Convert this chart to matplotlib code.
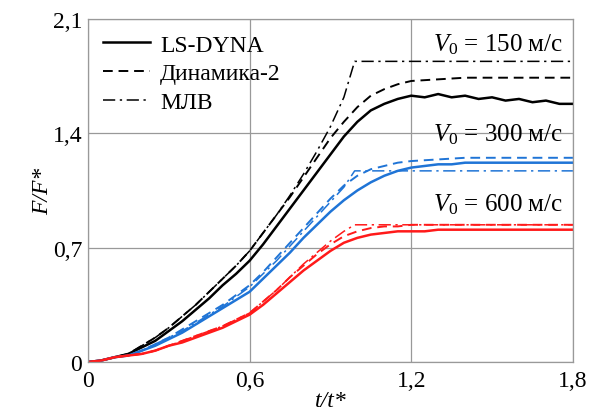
import matplotlib.pyplot as plt

plt.rcParams["font.family"] = ["Liberation Serif", "DejaVu Serif"]
plt.rcParams["mathtext.fontset"] = "custom"
plt.rcParams["mathtext.rm"] = "Liberation Serif"
plt.rcParams["mathtext.it"] = "Liberation Serif:italic"

# time axis t/t* for each series
T_LS = [0, 0.05, 0.1, 0.15, 0.2, 0.25, 0.3, 0.35, 0.4, 0.45, 0.5, 0.55, 0.6, 0.65, 0.7, 0.75,
        0.8, 0.85, 0.9, 0.95, 1.0, 1.05, 1.1, 1.15, 1.2, 1.25, 1.3, 1.35, 1.4, 1.45, 1.5,
        1.55, 1.6, 1.65, 1.7, 1.75, 1.8]
T_DYN = [0, 0.05, 0.1, 0.15, 0.2, 0.25, 0.3, 0.35, 0.4, 0.45, 0.5, 0.55, 0.6, 0.65, 0.7, 0.75,
         0.8, 0.85, 0.9, 0.95, 1.0, 1.05, 1.1, 1.15, 1.2, 1.3, 1.4, 1.5, 1.6, 1.7, 1.8]
T_MLV = [0, 0.05, 0.1, 0.15, 0.2, 0.25, 0.3, 0.35, 0.4, 0.45, 0.5, 0.55, 0.6, 0.65, 0.7, 0.75,
         0.8, 0.85, 0.9, 0.95, 0.99, 1.8]

# V0 = 150 m/s
ls_150 = [0, 0.01, 0.03, 0.05, 0.09, 0.13, 0.19, 0.25, 0.32, 0.39, 0.47, 0.54, 0.62, 0.72,
          0.83, 0.94, 1.05, 1.16, 1.27, 1.38, 1.47, 1.54, 1.58, 1.61, 1.63, 1.62, 1.64, 1.62,
          1.63, 1.61, 1.62, 1.60, 1.61, 1.59, 1.60, 1.58, 1.58]
dyn_150 = [0, 0.01, 0.03, 0.05, 0.10, 0.15, 0.21, 0.28, 0.35, 0.43, 0.51, 0.59, 0.68, 0.79,
           0.90, 1.01, 1.13, 1.25, 1.37, 1.47, 1.56, 1.63, 1.67, 1.70, 1.72, 1.73, 1.74, 1.74,
           1.74, 1.74, 1.74]
mlv_150 = [0, 0.01, 0.03, 0.05, 0.10, 0.15, 0.21, 0.28, 0.35, 0.43, 0.51, 0.59, 0.68, 0.79,
           0.90, 1.02, 1.15, 1.29, 1.44, 1.62, 1.84, 1.84]

# V0 = 300 m/s
ls_300 = [0, 0.01, 0.03, 0.04, 0.07, 0.10, 0.14, 0.18, 0.23, 0.28, 0.33, 0.38, 0.43, 0.51,
          0.59, 0.67, 0.76, 0.84, 0.92, 0.99, 1.05, 1.10, 1.14, 1.17, 1.19, 1.20, 1.21, 1.21,
          1.22, 1.22, 1.22, 1.22, 1.22, 1.22, 1.22, 1.22, 1.22]
dyn_300 = [0, 0.01, 0.03, 0.04, 0.07, 0.11, 0.15, 0.20, 0.25, 0.30, 0.35, 0.41, 0.47, 0.55,
           0.64, 0.73, 0.82, 0.91, 1.00, 1.08, 1.14, 1.18, 1.20, 1.22, 1.23, 1.24, 1.25, 1.25,
           1.25, 1.25, 1.25]
mlv_300 = [0, 0.01, 0.03, 0.04, 0.07, 0.11, 0.15, 0.19, 0.24, 0.29, 0.34, 0.40, 0.46, 0.54,
           0.62, 0.71, 0.80, 0.89, 0.98, 1.07, 1.17, 1.17]

# V0 = 600 m/s
ls_600 = [0, 0.01, 0.03, 0.04, 0.05, 0.07, 0.10, 0.12, 0.15, 0.18, 0.21, 0.25, 0.29, 0.35,
          0.42, 0.49, 0.56, 0.62, 0.68, 0.73, 0.76, 0.78, 0.79, 0.80, 0.80, 0.80, 0.81, 0.81,
          0.81, 0.81, 0.81, 0.81, 0.81, 0.81, 0.81, 0.81, 0.81]
dyn_600 = [0, 0.01, 0.03, 0.04, 0.05, 0.07, 0.10, 0.13, 0.16, 0.19, 0.22, 0.26, 0.30, 0.37,
           0.44, 0.52, 0.59, 0.66, 0.72, 0.77, 0.80, 0.82, 0.83, 0.83, 0.84, 0.84, 0.84, 0.84,
           0.84, 0.84, 0.84]
mlv_600 = [0, 0.01, 0.03, 0.04, 0.05, 0.07, 0.10, 0.13, 0.16, 0.19, 0.22, 0.26, 0.30, 0.37,
           0.44, 0.52, 0.60, 0.67, 0.74, 0.80, 0.84, 0.84]

X_TICKS = [0, 0.6, 1.2, 1.8]
X_LABELS = ["0", "0,6", "1,2", "1,8"]
Y_TICKS = [0, 0.7, 1.4, 2.1]
Y_LABELS = ["0", "0,7", "1,4", "2,1"]

V_LABELS = [(1.95, r"$V_0$ = 150 м/с"), (1.40, r"$V_0$ = 300 м/с"),
            (0.97, r"$V_0$ = 600 м/с")]

BLUE = "#1f74d6"
RED = "#ff1a1a"

fig = plt.figure(figsize=(5.9, 4.14), dpi=100)
ax = fig.add_axes([0.149, 0.123, 0.822, 0.829])

groups = [
    ("black", ls_150, dyn_150, mlv_150),
    (BLUE, ls_300, dyn_300, mlv_300),
    (RED, ls_600, dyn_600, mlv_600),
]
for i, (c, ls, dyn, mlv) in enumerate(groups):
    ax.plot(T_LS, ls, color=c, lw=1.8, ls="-", label="LS-DYNA" if i == 0 else None)
    ax.plot(T_DYN, dyn, color=c, lw=1.4, ls=(0, (5, 3)), label="Динамика-2" if i == 0 else None)
    ax.plot(T_MLV, mlv, color=c, lw=1.1, ls=(0, (8, 3, 1.5, 3)), label="МЛВ" if i == 0 else None)

for y, s in V_LABELS:
    ax.text(1.765, y, s, ha="right", va="center", fontsize=18)

ax.set_xlim(0, 1.8)
ax.set_ylim(0, 2.1)
ax.set_xticks(X_TICKS)
ax.set_xticklabels(X_LABELS, fontsize=17)
ax.set_yticks(Y_TICKS)
ax.set_yticklabels(Y_LABELS, fontsize=17)
ax.tick_params(axis="x", length=0, pad=6)
ax.tick_params(axis="y", length=0, pad=4)
ax.grid(True, color="#999999", lw=0.9)
for sp in ax.spines.values():
    sp.set_color("#999999")
    sp.set_linewidth(0.9)

ax.set_xlabel("t/t*", fontsize=17, style="italic", labelpad=-1)
ax.set_ylabel("F/F*", fontsize=17, style="italic", labelpad=0)

leg = ax.legend(loc="upper left", frameon=False, fontsize=17, handlelength=2.0,
                handletextpad=0.4, labelspacing=0.3, borderaxespad=0.35,
                borderpad=0.3)
for line in leg.get_lines():
    line.set_color("black")

fig.savefig("out.png", dpi=100)
